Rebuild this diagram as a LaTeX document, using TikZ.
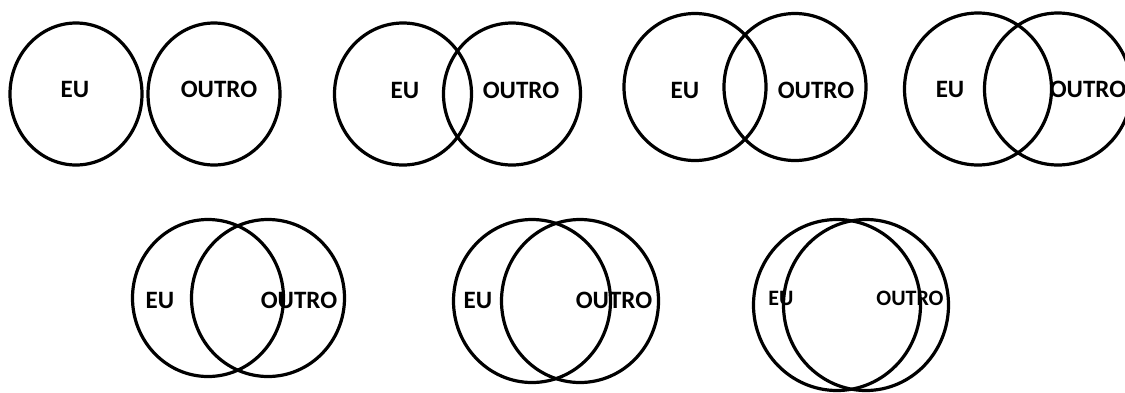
\documentclass[tikz,border=0pt]{standalone}
\usepackage{fontspec}
\setmainfont{Carlito}
\begin{document}
\begin{tikzpicture}[x=1pt,y=-1pt,
  ring/.style={draw=black,line width=3.2pt},
  lbl/.style={inner sep=0pt,font=\bfseries\fontsize{25}{25}\selectfont},
  lbls/.style={inner sep=0pt,font=\bfseries\fontsize{22}{22}\selectfont}]
\useasboundingbox (0,0) rectangle (1125,392);
% pair 1
\draw[ring] (76,94) ellipse [x radius=66pt,y radius=71pt];
\draw[ring] (214,94) ellipse [x radius=66pt,y radius=71pt];
\node[lbl] (eu1) at (75,89) {EU};
\node[lbl] (ou1) at (219,89) {OUTRO};
% pair 2
\draw[ring] (403,94) ellipse [x radius=68.5pt,y radius=71pt];
\draw[ring] (512,94) ellipse [x radius=68.5pt,y radius=71pt];
\node[lbl] (eu2) at (405,90) {EU};
\node[lbl] (ou2) at (521,90) {OUTRO};
% pair 3
\draw[ring] (695,87) ellipse [x radius=71pt,y radius=73.5pt];
\draw[ring] (795,87) ellipse [x radius=71pt,y radius=73.5pt];
\node[lbl] (eu3) at (685,90) {EU};
\node[lbl] (ou3) at (816,90) {OUTRO};
% pair 4
\draw[ring] (978,89) ellipse [x radius=73.5pt,y radius=76pt];
\draw[ring] (1058,89) ellipse [x radius=73.5pt,y radius=76pt];
\node[lbl] (eu4) at (950,89) {EU};
\node[lbl] (ou4) at (1088,89) {OUTRO};
% pair 5
\draw[ring] (208,298) ellipse [x radius=75.5pt,y radius=78.5pt];
\draw[ring] (268,298) ellipse [x radius=76.5pt,y radius=78.5pt];
\node[lbl] (eu5) at (160,300) {EU};
\node[lbl] (ou5) at (299,300) {OUTRO};
% pair 6
\draw[ring] (532,301) ellipse [x radius=78.5pt,y radius=81.5pt];
\draw[ring] (580,301) ellipse [x radius=78.5pt,y radius=81.5pt];
\node[lbl] (eu6) at (478,300) {EU};
\node[lbl] (ou6) at (614,300) {OUTRO};
% pair 7
\draw[ring] (837,305) ellipse [x radius=83.5pt,y radius=85.5pt];
\draw[ring] (866,305) ellipse [x radius=82.5pt,y radius=85.5pt];
\node[lbls] (eu7) at (781,298) {EU};
\node[lbls] (ou7) at (910,298) {OUTRO};
\end{tikzpicture}
\end{document}
